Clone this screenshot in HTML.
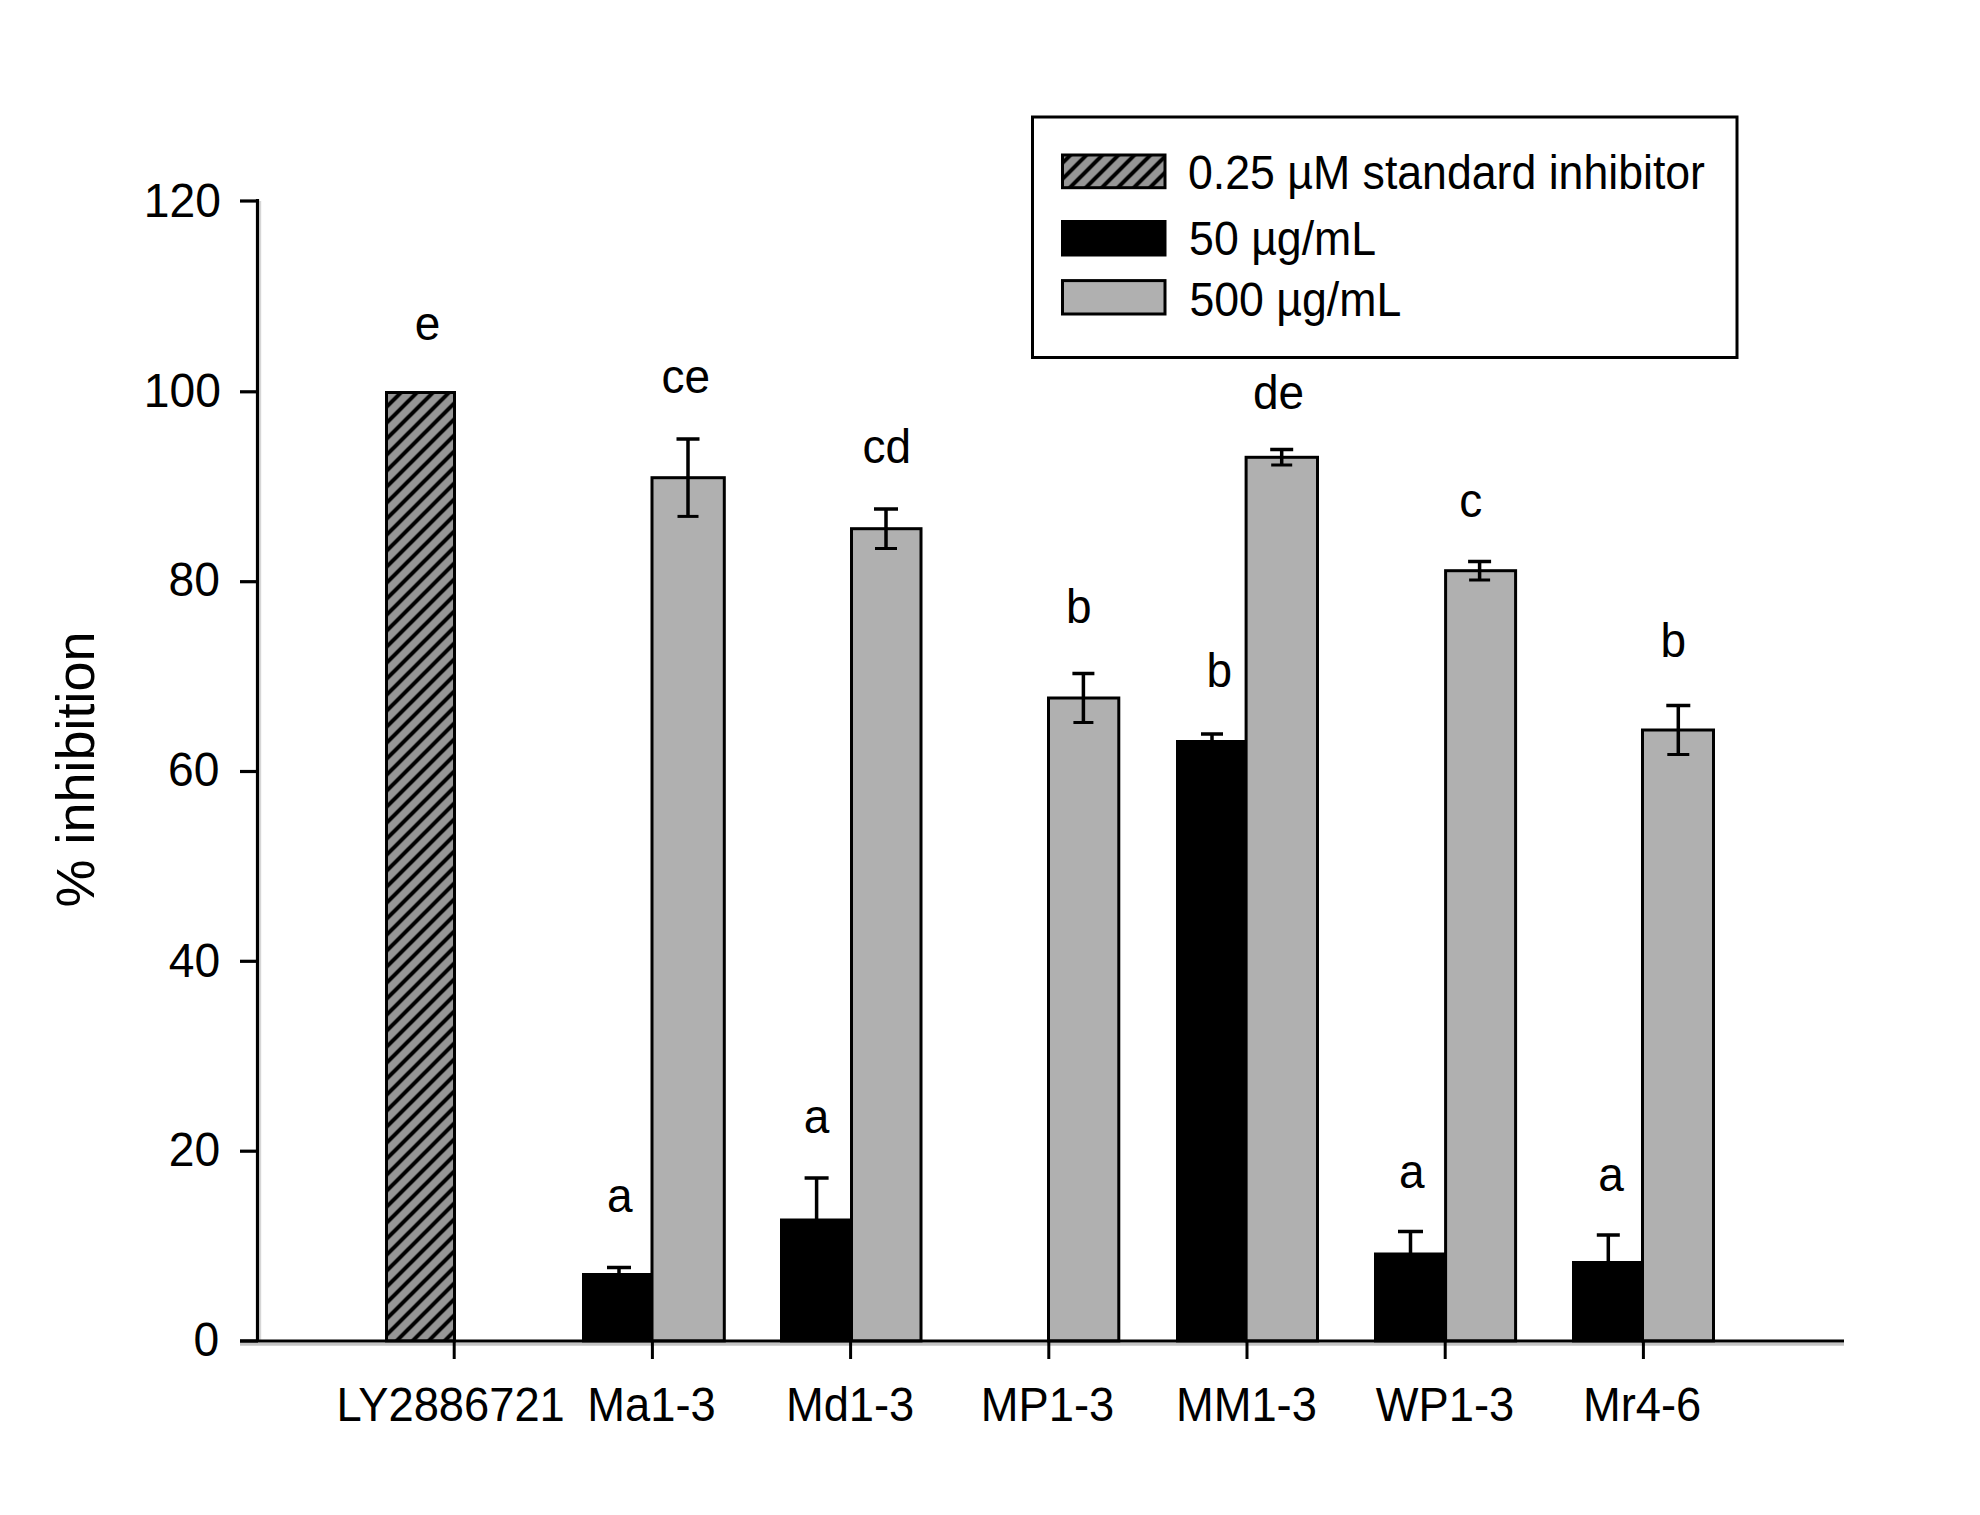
<!DOCTYPE html>
<html><head><meta charset="utf-8"><title>% inhibition bar chart</title>
<style>html,body{margin:0;padding:0;background:#fff;}body{width:1980px;height:1515px;overflow:hidden;}svg{display:block;}text{font-family:"Liberation Sans", Arial, Helvetica, sans-serif;fill:#000;}</style></head><body>
<svg width="1980" height="1515" viewBox="0 0 1980 1515">
<defs>
<pattern id="hatch" patternUnits="userSpaceOnUse" width="16" height="16" patternTransform="translate(-6.5,0)"><rect width="16" height="16" fill="#969696"/><path d="M-4,4 L4,-4 M-4,20 L20,-4 M12,20 L20,12" stroke="#000" stroke-width="4"/></pattern>
</defs>
<rect width="1980" height="1515" fill="#fff"/>
<rect x="386.5" y="392.5" width="68.0" height="948.5" fill="url(#hatch)" stroke="#000" stroke-width="3.0"/>
<rect x="583.5" y="1274.5" width="68.7" height="66.5" fill="#000" stroke="#000" stroke-width="3.0"/>
<rect x="781.5" y="1220.0" width="68.8" height="121.0" fill="#000" stroke="#000" stroke-width="3.0"/>
<rect x="1177.5" y="741.5" width="68.8" height="599.5" fill="#000" stroke="#000" stroke-width="3.0"/>
<rect x="1375.5" y="1254.0" width="69.5" height="87.0" fill="#000" stroke="#000" stroke-width="3.0"/>
<rect x="1573.5" y="1262.5" width="68.6" height="78.5" fill="#000" stroke="#000" stroke-width="3.0"/>
<rect x="652.0" y="477.7" width="72.3" height="863.3" fill="#b0b0b0" stroke="#000" stroke-width="3.0"/>
<rect x="851.5" y="528.7" width="69.5" height="812.3" fill="#b0b0b0" stroke="#000" stroke-width="3.0"/>
<rect x="1048.5" y="698.0" width="70.3" height="643.0" fill="#b0b0b0" stroke="#000" stroke-width="3.0"/>
<rect x="1246.1" y="457.3" width="71.4" height="883.7" fill="#b0b0b0" stroke="#000" stroke-width="3.0"/>
<rect x="1445.6" y="570.7" width="70.0" height="770.3" fill="#b0b0b0" stroke="#000" stroke-width="3.0"/>
<rect x="1642.5" y="730.0" width="71.0" height="611.0" fill="#b0b0b0" stroke="#000" stroke-width="3.0"/>
<path d="M619.0,1267.5 V1327.5 M607.0,1267.5 H631.0" stroke="#000" stroke-width="3.5" fill="none"/>
<path d="M688.0,439.0 V516.4 M676.5,439.0 H699.5" stroke="#000" stroke-width="3.5" fill="none"/>
<path d="M677.5,516.4 H698.5" stroke="#000" stroke-width="3" fill="none"/>
<path d="M816.6,1178.0 V1238.0 M804.6,1178.0 H828.6" stroke="#000" stroke-width="3.5" fill="none"/>
<path d="M886.0,509.0 V548.5 M874.0,509.0 H898.0" stroke="#000" stroke-width="3.5" fill="none"/>
<path d="M875.0,548.5 H897.0" stroke="#000" stroke-width="3" fill="none"/>
<path d="M1083.4,673.5 V722.5 M1072.4,673.5 H1094.4" stroke="#000" stroke-width="3.5" fill="none"/>
<path d="M1073.4,722.5 H1093.4" stroke="#000" stroke-width="3" fill="none"/>
<path d="M1212.0,734.0 V794.0 M1201.0,734.0 H1223.0" stroke="#000" stroke-width="3.5" fill="none"/>
<path d="M1281.7,449.5 V465.0 M1270.2,449.5 H1293.2" stroke="#000" stroke-width="3.5" fill="none"/>
<path d="M1271.2,465.0 H1292.2" stroke="#000" stroke-width="3" fill="none"/>
<path d="M1410.5,1231.5 V1291.5 M1398.0,1231.5 H1423.0" stroke="#000" stroke-width="3.5" fill="none"/>
<path d="M1479.6,561.5 V580.0 M1468.1,561.5 H1491.1" stroke="#000" stroke-width="3.5" fill="none"/>
<path d="M1469.1,580.0 H1490.1" stroke="#000" stroke-width="3" fill="none"/>
<path d="M1608.3,1235.0 V1295.0 M1596.8,1235.0 H1619.8" stroke="#000" stroke-width="3.5" fill="none"/>
<path d="M1678.3,705.5 V754.5 M1666.3,705.5 H1690.3" stroke="#000" stroke-width="3.5" fill="none"/>
<path d="M1667.3,754.5 H1689.3" stroke="#000" stroke-width="3" fill="none"/>
<path d="M260.2,201 V1340" stroke="#d6d6d6" stroke-width="2" fill="none"/>
<path d="M240,1344.3 H1844" stroke="#c4c4c4" stroke-width="3" fill="none"/>
<path d="M257.5,199 V1342" stroke="#000" stroke-width="3.2" fill="none"/>
<path d="M240,1341 H1844" stroke="#000" stroke-width="3.2" fill="none"/>
<path d="M240,1341.0 H258" stroke="#000" stroke-width="3.2" fill="none"/>
<path d="M240,1151.2 H258" stroke="#000" stroke-width="3.2" fill="none"/>
<path d="M240,961.3 H258" stroke="#000" stroke-width="3.2" fill="none"/>
<path d="M240,771.5 H258" stroke="#000" stroke-width="3.2" fill="none"/>
<path d="M240,581.7 H258" stroke="#000" stroke-width="3.2" fill="none"/>
<path d="M240,391.8 H258" stroke="#000" stroke-width="3.2" fill="none"/>
<path d="M240,201.0 H258" stroke="#000" stroke-width="3.2" fill="none"/>
<path d="M454.2,1341 V1359" stroke="#000" stroke-width="3" fill="none"/>
<path d="M652.4,1341 V1359" stroke="#000" stroke-width="3" fill="none"/>
<path d="M850.6,1341 V1359" stroke="#000" stroke-width="3" fill="none"/>
<path d="M1048.8,1341 V1359" stroke="#000" stroke-width="3" fill="none"/>
<path d="M1247.0,1341 V1359" stroke="#000" stroke-width="3" fill="none"/>
<path d="M1445.2,1341 V1359" stroke="#000" stroke-width="3" fill="none"/>
<path d="M1643.4,1341 V1359" stroke="#000" stroke-width="3" fill="none"/>
<text transform="translate(94,769.5) rotate(-90)" font-size="54" text-anchor="middle">% inhibition</text>
<rect x="1032.5" y="117" width="704.5" height="240.5" fill="none" stroke="#000" stroke-width="3"/>
<rect x="1062.5" y="155.0" width="102.5" height="32.7" fill="url(#hatch)" stroke="#000" stroke-width="3.0"/>
<rect x="1062.5" y="221.5" width="102.5" height="33.5" fill="#000" stroke="#000" stroke-width="3.0"/>
<rect x="1062.5" y="280.6" width="102.5" height="33.4" fill="#b0b0b0" stroke="#000" stroke-width="3.0"/>
<text transform="translate(220.90,217.45) scale(1,1.0540)" font-size="46.20" text-anchor="end">120</text>
<text transform="translate(220.90,406.80) scale(1,1.0540)" font-size="46.20" text-anchor="end">100</text>
<text transform="translate(219.95,595.75) scale(1,1.0540)" font-size="46.20" text-anchor="end">80</text>
<text transform="translate(219.40,785.55) scale(1,1.0540)" font-size="46.20" text-anchor="end">60</text>
<text transform="translate(220.10,977.45) scale(1,1.0540)" font-size="46.20" text-anchor="end">40</text>
<text transform="translate(220.25,1165.65) scale(1,1.0540)" font-size="46.20" text-anchor="end">20</text>
<text transform="translate(219.20,1356.15) scale(1,1.0540)" font-size="46.20" text-anchor="end">0</text>
<text transform="translate(450.60,1420.60) scale(1,1.0640)" font-size="45.30" text-anchor="middle">LY2886721</text>
<text transform="translate(651.50,1420.60) scale(1,1.0640)" font-size="45.30" text-anchor="middle">Ma1-3</text>
<text transform="translate(850.10,1421.10) scale(1,1.0640)" font-size="45.30" text-anchor="middle">Md1-3</text>
<text transform="translate(1047.50,1420.60) scale(1,1.0640)" font-size="45.30" text-anchor="middle">MP1-3</text>
<text transform="translate(1246.40,1420.60) scale(1,1.0640)" font-size="45.30" text-anchor="middle">MM1-3</text>
<text transform="translate(1445.00,1420.60) scale(1,1.0640)" font-size="45.30" text-anchor="middle">WP1-3</text>
<text transform="translate(1642.10,1420.60) scale(1,1.0640)" font-size="45.30" text-anchor="middle">Mr4-6</text>
<text transform="translate(427.50,339.95) scale(1,1.0400)" font-size="46.00" text-anchor="middle">e</text>
<text transform="translate(619.90,1212.30) scale(1,1.0400)" font-size="46.00" text-anchor="middle">a</text>
<text transform="translate(685.70,392.90) scale(1,1.0400)" font-size="46.00" text-anchor="middle">ce</text>
<text transform="translate(816.50,1132.65) scale(1,1.0400)" font-size="46.00" text-anchor="middle">a</text>
<text transform="translate(886.80,462.90) scale(1,1.0400)" font-size="46.00" text-anchor="middle">cd</text>
<text transform="translate(1078.80,623.25) scale(1,1.0400)" font-size="46.00" text-anchor="middle">b</text>
<text transform="translate(1219.30,686.65) scale(1,1.0400)" font-size="46.00" text-anchor="middle">b</text>
<text transform="translate(1278.50,409.30) scale(1,1.0400)" font-size="46.00" text-anchor="middle">de</text>
<text transform="translate(1411.70,1188.30) scale(1,1.0400)" font-size="46.00" text-anchor="middle">a</text>
<text transform="translate(1470.80,517.30) scale(1,1.0400)" font-size="46.00" text-anchor="middle">c</text>
<text transform="translate(1611.10,1191.10) scale(1,1.0400)" font-size="46.00" text-anchor="middle">a</text>
<text transform="translate(1673.20,656.65) scale(1,1.0400)" font-size="46.00" text-anchor="middle">b</text>
<text transform="translate(1188.00,188.50) scale(1,1.0820)" font-size="44.65">0.25 µM standard inhibitor</text>
<text transform="translate(1189.10,254.65) scale(1,1.0820)" font-size="44.65">50 µg/mL</text>
<text transform="translate(1189.45,315.75) scale(1,1.0820)" font-size="44.65">500 µg/mL</text>
</svg></body></html>
